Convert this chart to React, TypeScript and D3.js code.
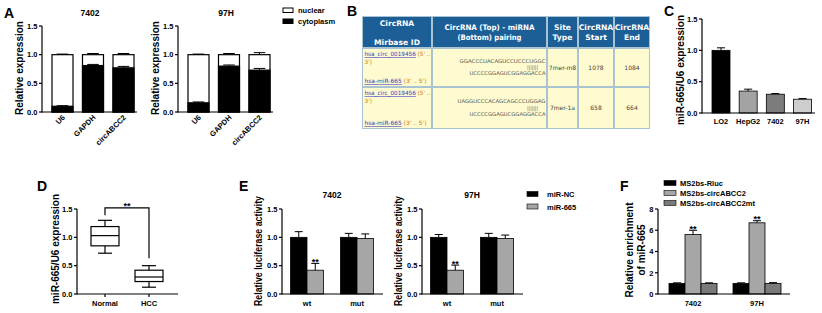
import React from "react";
import * as d3 from "d3";

const FONT = "Liberation Sans, Arial, Helvetica, sans-serif";

// Panel A
const aCategories = ["U6", "GAPDH", "circABCC2"];
const aTitles = ["7402", "97H"];
const a7402Cyto = [0.1, 0.81, 0.77];
const a7402CytoErr = [0.01, 0.02, 0.025];
const a7402Total = [1.0, 1.0, 1.0];
const a7402TotalErr = [0.01, 0.02, 0.02];
const a97HCyto = [0.16, 0.8, 0.73];
const a97HCytoErr = [0.015, 0.02, 0.03];
const a97HTotal = [1.0, 1.0, 1.0];
const a97HTotalErr = [0.01, 0.02, 0.035];
const aLegend = ["nuclear", "cytoplasm"];
const yTicks15 = [0, 0.5, 1.0, 1.5];

// Panel B
const tableHeaderLines = [
  ["CircRNA", "", "Mirbase ID"],
  ["CircRNA (Top) - miRNA", "(Bottom) pairing"],
  ["Site", "Type"],
  ["CircRNA", "Start"],
  ["CircRNA", "End"],
];
const tableCircIds = ["hsa_circ_0019456", "hsa_circ_0019456"];
const tableMirIds = ["hsa-miR-665", "hsa-miR-665"];
const tableTopSeq = ["GGACCCUACAGUCCUCCCUGGC", "UAGGUCCCACAGCAGCCCUGGAG"];
const tablePairs = ["|||||||", "|||||||"];
const tableBottomSeq = ["UCCCCGGAGUCGGAGGACCA", "UCCCCGGAGUCGGAGGACCA"];
const tableSiteType = ["7mer-m8", "7mer-1a"];
const tableStart = ["1078", "658"];
const tableEnd = ["1084", "664"];

// Panel C
const cCategories = ["LO2", "HepG2", "7402", "97H"];
const cValues = [1.0, 0.35, 0.3, 0.22];
const cErrors = [0.04, 0.03, 0.01, 0.01];
const cColors = ["#000000", "#a3a3a3", "#7c7c7c", "#cdcdcd"];

// Panel D
const dCategories = ["Normal", "HCC"];
const dMin = [0.72, 0.12];
const dQ1 = [0.85, 0.22];
const dMedian = [1.03, 0.3];
const dQ3 = [1.19, 0.42];
const dMax = [1.3, 0.5];

// Panel E
const eGroups = ["wt", "mut"];
const eSeries = ["miR-NC", "miR-665"];
const eColors = ["#000000", "#a6a6a6"];
const eTitles = ["7402", "97H"];
const e7402Values = [[1.0, 1.0], [0.42, 0.98]];
const e7402Errors = [[0.1, 0.07], [0.12, 0.08]];
const e97HValues = [[1.0, 1.0], [0.42, 0.98]];
const e97HErrors = [[0.05, 0.07], [0.09, 0.06]];

// Panel F
const fGroups = ["7402", "97H"];
const fSeries = ["MS2bs-Rluc", "MS2bs-circABCC2", "MS2bs-circABCC2mt"];
const fColors = ["#000000", "#a6a6a6", "#7a7a7a"];
const fValues = [[1.0, 1.0], [5.6, 6.7], [1.0, 1.0]];
const fErrors = [[0.05, 0.05], [0.4, 0.2], [0.05, 0.07]];
const fTicks = [0, 2, 4, 6, 8];

const SW = 1.2;

function YAxis({ scale, x, ticks, fmt }: any) {
  const r = scale.range();
  return (
    <g>
      <line x1={x} x2={x} y1={r[0] + 0.6} y2={r[1]} stroke="#000" strokeWidth={SW} />
      {ticks.map((t: number) => (
        <g key={t}>
          <line x1={x - 3} x2={x} y1={scale(t)} y2={scale(t)} stroke="#000" strokeWidth={SW} />
          <text x={x - 4.5} y={scale(t) + 2.8} fontSize={7.5} fontWeight="bold" textAnchor="end" fontFamily={FONT}>
            {fmt(t)}
          </text>
        </g>
      ))}
    </g>
  );
}

function XAxisLine({ x0, x1, y }: any) {
  return <line x1={x0} x2={x1} y1={y} y2={y} stroke="#000" strokeWidth={SW} />;
}

function ErrBar({ x, y0, y1, w }: any) {
  return (
    <g stroke="#000" strokeWidth={1}>
      <line x1={x} x2={x} y1={y0} y2={y1} />
      <line x1={x - w / 2} x2={x + w / 2} y1={y1} y2={y1} />
    </g>
  );
}

function YTitle({ x, y, lines, size = 10, len }: any) {
  if (lines.length === 1) {
    return (
      <text
        transform={`translate(${x},${y}) rotate(-90)`}
        x={len ? -len / 2 : 0}
        fontSize={size}
        fontWeight="bold"
        textAnchor={len ? "start" : "middle"}
        fontFamily={FONT}
        textLength={len}
        lengthAdjust={len ? "spacingAndGlyphs" : undefined}
      >
        {lines[0]}
      </text>
    );
  }
  return (
    <text transform={`translate(${x},${y}) rotate(-90)`} fontSize={size} fontWeight="bold" textAnchor="middle" fontFamily={FONT}>
      {lines.map((l: string, i: number) => (
        <tspan key={i} x={0} dy={i === 0 ? 0 : size * 1.2}>
          {l}
        </tspan>
      ))}
    </text>
  );
}

function PanelLabel({ x, y, t }: any) {
  return (
    <text x={x} y={y} fontSize={14} fontWeight="bold" fontFamily={FONT}>
      {t}
    </text>
  );
}

function PanelA({ x0, title, cyto, cytoErr, total, totalErr }: any) {
  const y = d3.scaleLinear().domain([0, 1.5]).range([112, 26]);
  const xs = d3.scalePoint().domain(aCategories).range([x0 + 20.5, x0 + 81.5]);
  const bw = 21;
  return (
    <g>
      <text x={x0 + 48} y={16} fontSize={8.5} fontWeight="bold" textAnchor="middle" fontFamily={FONT}>
        {title}
      </text>
      {aCategories.map((c, i) => {
        const cx = xs(c) as number;
        return (
          <g key={c}>
            <rect x={cx - bw / 2} y={y(total[i])} width={bw} height={y(0) - y(total[i])} fill="#fff" stroke="#000" strokeWidth={SW} />
            <rect x={cx - bw / 2} y={y(cyto[i])} width={bw} height={y(0) - y(cyto[i])} fill="#000" stroke="#000" strokeWidth={SW} />
            <ErrBar x={cx} y0={y(cyto[i])} y1={y(cyto[i] + cytoErr[i])} w={bw * 0.55} />
            <ErrBar x={cx} y0={y(total[i])} y1={y(total[i] + totalErr[i])} w={bw * 0.55} />
            <text transform={`translate(${cx + 3},${118}) rotate(-45)`} fontSize={7.5} fontWeight="bold" textAnchor="end" fontFamily={FONT}>
              {c}
            </text>
          </g>
        );
      })}
      <YAxis scale={y} x={x0} ticks={yTicks15} fmt={d3.format(".1f")} />
      <XAxisLine x0={x0} x1={x0 + 95} y={y(0)} />
      <YTitle x={x0 - 19} y={68} lines={["Relative expression"]} />
    </g>
  );
}

function PanelB() {
  const cols = [362, 432, 547, 578, 614, 650];
  const rows = [16, 48, 87, 129];
  const border = "#a9c3d3";
  const cells: any[] = [];
  for (let r = 0; r < 3; r++) {
    for (let c = 0; c < 5; c++) {
      cells.push(
        <rect
          key={`${r}-${c}`}
          x={cols[c] + 1}
          y={rows[r] + 1}
          width={cols[c + 1] - cols[c] - 2}
          height={rows[r + 1] - rows[r] - 2}
          fill={r === 0 ? "#1c5e96" : "#fdfbcf"}
        />
      );
    }
  }
  const hdr = tableHeaderLines.map((lines, c) => {
    const cx = (cols[c] + cols[c + 1]) / 2;
    const n = lines.length;
    return lines.map((l, i) => (
      <text
        key={`${c}-${i}`}
        x={cx}
        y={n === 3 ? 26 + i * 9.5 : 30 + i * 10}
        fontSize={7.6}
        fontWeight="bold"
        fill="#fff"
        textAnchor="middle"
        fontFamily="DejaVu Sans, sans-serif"
        textLength={c === 1 ? (i === 0 ? 90 : 64) : undefined}
        lengthAdjust="spacingAndGlyphs"
      >
        {l}
      </text>
    ));
  });
  const body = [0, 1].map((r) => {
    const top = rows[r + 1];
    const mid = (rows[r + 1] + rows[r + 2]) / 2;
    return (
      <g key={r} fontFamily="DejaVu Sans, sans-serif" fontSize={5.8}>
        <text x={cols[0] + 2.5} y={top + 8} textLength={66} lengthAdjust="spacingAndGlyphs">
          <tspan fill="#3a3ac8" textDecoration="underline">{tableCircIds[r]}</tspan>
          <tspan fill="#d07a20">{" (5' .."}</tspan>
        </text>
        <text x={cols[0] + 2.5} y={top + 16} fill="#d07a20">3')</text>
        <text x={cols[0] + 2.5} y={rows[r + 2] - 4} textLength={62} lengthAdjust="spacingAndGlyphs">
          <tspan fill="#3a3ac8" textDecoration="underline">{tableMirIds[r]}</tspan>
          <tspan fill="#d07a20">{" (3' .. 5')"}</tspan>
        </text>
        <text x={cols[2] - 1.5} y={mid - 5} textAnchor="end" fill="#555" fontSize={5} textLength={r === 0 ? 86 : 88} lengthAdjust="spacingAndGlyphs">{tableTopSeq[r]}</text>
        <text x={cols[2] - 9} y={mid + 1.5} textAnchor="end" fill="#555" fontSize={5} textLength={11} lengthAdjust="spacingAndGlyphs">{tablePairs[r]}</text>
        <text x={cols[2] - 1.5} y={mid + 7.5} textAnchor="end" fill="#555" fontSize={5} textLength={76} lengthAdjust="spacingAndGlyphs">{tableBottomSeq[r]}</text>
        <text x={(cols[2] + cols[3]) / 2} y={mid + 2} textAnchor="middle" fill="#444" fontSize={6}>{tableSiteType[r]}</text>
        <text x={(cols[3] + cols[4]) / 2} y={mid + 2} textAnchor="middle" fill="#444" fontSize={6}>{tableStart[r]}</text>
        <text x={(cols[4] + cols[5]) / 2} y={mid + 2} textAnchor="middle" fill="#444" fontSize={6}>{tableEnd[r]}</text>
      </g>
    );
  });
  return (
    <g>
      <rect x={cols[0]} y={rows[0]} width={cols[5] - cols[0]} height={rows[3] - rows[0]} fill={border} />
      {cells}
      {hdr}
      {body}
    </g>
  );
}

function PanelC() {
  const y = d3.scaleLinear().domain([0, 1.5]).range([113, 19]);
  const xs = d3.scalePoint().domain(cCategories).range([721, 802.5]);
  const bw = 18;
  return (
    <g>
      {cCategories.map((c, i) => {
        const cx = xs(c) as number;
        return (
          <g key={c}>
            <rect x={cx - bw / 2} y={y(cValues[i])} width={bw} height={y(0) - y(cValues[i])} fill={cColors[i]} stroke="#000" strokeWidth={0.8} />
            <ErrBar x={cx} y0={y(cValues[i])} y1={y(cValues[i] + cErrors[i])} w={8} />
            <text x={cx} y={124} fontSize={7.5} fontWeight="bold" textAnchor="middle" fontFamily={FONT}>{c}</text>
          </g>
        );
      })}
      <YAxis scale={y} x={702} ticks={yTicks15} fmt={d3.format(".1f")} />
      <XAxisLine x0={702} x1={815} y={y(0)} />
      <YTitle x={684} y={70} lines={["miR-665/U6 expression"]} />
    </g>
  );
}

function PanelD() {
  const y = d3.scaleLinear().domain([0, 1.5]).range([294, 209]);
  const xs = d3.scalePoint().domain(dCategories).range([105, 149]);
  const bw = 28;
  return (
    <g>
      {dCategories.map((c, i) => {
        const cx = xs(c) as number;
        return (
          <g key={c} stroke="#000" strokeWidth={SW}>
            <line x1={cx} x2={cx} y1={y(dMin[i])} y2={y(dQ1[i])} />
            <line x1={cx} x2={cx} y1={y(dQ3[i])} y2={y(dMax[i])} />
            <line x1={cx - bw / 4} x2={cx + bw / 4} y1={y(dMin[i])} y2={y(dMin[i])} />
            <line x1={cx - bw / 4} x2={cx + bw / 4} y1={y(dMax[i])} y2={y(dMax[i])} />
            <rect x={cx - bw / 2} y={y(dQ3[i])} width={bw} height={y(dQ1[i]) - y(dQ3[i])} fill="#fff" />
            <line x1={cx - bw / 2} x2={cx + bw / 2} y1={y(dMedian[i])} y2={y(dMedian[i])} />
            <line x1={cx} x2={cx} y1={y(0)} y2={y(0) + 3} />
            <text x={cx} y={306} fontSize={7.5} fontWeight="bold" textAnchor="middle" fontFamily={FONT} stroke="none">{c}</text>
          </g>
        );
      })}
      <path
        d={`M${xs("Normal")},${y(1.39)}V${y(1.52)}H${xs("HCC")}V${y(0.63)}`}
        fill="none"
        stroke="#000"
        strokeWidth={SW}
      />
      <text x={127} y={209} fontSize={9} fontWeight="bold" textAnchor="middle" fontFamily={FONT}>**</text>
      <YAxis scale={y} x={77} ticks={yTicks15} fmt={d3.format(".1f")} />
      <XAxisLine x0={77} x1={178} y={y(0)} />
      <YTitle x={59} y={249} lines={["miR-665/U6 expression"]} />
    </g>
  );
}

function PanelE({ x0, title, values, errors }: any) {
  const y = d3.scaleLinear().domain([0, 1.5]).range([294, 209]);
  const xs = d3.scalePoint().domain(eGroups).range([x0 + 25, x0 + 75]);
  const bw = 16.5;
  return (
    <g>
      <text x={x0 + 50} y={198} fontSize={8.5} fontWeight="bold" textAnchor="middle" fontFamily={FONT}>{title}</text>
      {eGroups.map((g, gi) => {
        const gc = xs(g) as number;
        return (
          <g key={g}>
            {eSeries.map((s, si) => {
              const cx = gc + (si - 0.5) * bw;
              const v = values[si][gi];
              const e = errors[si][gi];
              return (
                <g key={s}>
                  <rect x={cx - bw / 2} y={y(v)} width={bw} height={y(0) - y(v)} fill={eColors[si]} stroke="#000" strokeWidth={0.8} />
                  <ErrBar x={cx} y0={y(v)} y1={y(v + e)} w={8} />
                  {si === 1 && gi === 0 ? (
                    <text x={cx} y={y(v + e) + 1.5} fontSize={9} fontWeight="bold" textAnchor="middle" fontFamily={FONT}>**</text>
                  ) : null}
                </g>
              );
            })}
            <text x={gc} y={306} fontSize={7.5} fontWeight="bold" textAnchor="middle" fontFamily={FONT}>{g}</text>
          </g>
        );
      })}
      <YAxis scale={y} x={x0} ticks={yTicks15} fmt={d3.format(".1f")} />
      <XAxisLine x0={x0} x1={x0 + 101} y={y(0)} />
      <YTitle x={x0 - 20} y={251} lines={["Relative luciferase activity"]} size={10} len={110} />
    </g>
  );
}

function PanelF() {
  const y = d3.scaleLinear().domain([0, 8]).range([294, 209]);
  const xs = d3.scalePoint().domain(fGroups).range([693, 757]);
  const bw = 16;
  return (
    <g>
      {fGroups.map((g, gi) => {
        const gc = xs(g) as number;
        return (
          <g key={g}>
            {fSeries.map((s, si) => {
              const cx = gc + (si - 1) * bw;
              const v = fValues[si][gi];
              const e = fErrors[si][gi];
              return (
                <g key={s}>
                  <rect x={cx - bw / 2} y={y(v)} width={bw} height={y(0) - y(v)} fill={fColors[si]} stroke="#000" strokeWidth={0.8} />
                  <ErrBar x={cx} y0={y(v)} y1={y(v + e)} w={8} />
                  {si === 1 ? (
                    <text x={cx} y={y(v + e) + 1.5} fontSize={9} fontWeight="bold" textAnchor="middle" fontFamily={FONT}>**</text>
                  ) : null}
                </g>
              );
            })}
            <text x={gc} y={306} fontSize={7.5} fontWeight="bold" textAnchor="middle" fontFamily={FONT}>{g}</text>
          </g>
        );
      })}
      {fSeries.map((s, si) => (
        <g key={s}>
          <rect x={664} y={180.5 + si * 10} width={12} height={5} fill={fColors[si]} stroke="#000" strokeWidth={0.6} />
          <text x={680} y={186 + si * 10} fontSize={7.5} fontWeight="bold" fontFamily={FONT}>{s}</text>
        </g>
      ))}
      <YAxis scale={y} x={658} ticks={fTicks} fmt={d3.format("d")} />
      <XAxisLine x0={658} x1={790} y={y(0)} />
      <YTitle x={633} y={250} lines={["Relative enrichment", "of miR-665"]} />
    </g>
  );
}

export default function App() {
  return (
    <svg width={822} height={313} style={{ position: "absolute", left: 0, top: 0, background: "#fff" }} fontFamily={FONT}>
      <rect width={822} height={313} fill="#fff" />
      <PanelLabel x={4} y={18} t="A" />
      <PanelA x0={42} title={aTitles[0]} cyto={a7402Cyto} cytoErr={a7402CytoErr} total={a7402Total} totalErr={a7402TotalErr} />
      <PanelA x0={178} title={aTitles[1]} cyto={a97HCyto} cytoErr={a97HCytoErr} total={a97HTotal} totalErr={a97HTotalErr} />
      {aLegend.map((l, i) => (
        <g key={l}>
          <rect x={283} y={8 + i * 11} width={10} height={4.5} fill={i === 0 ? "#fff" : "#000"} stroke="#000" strokeWidth={1} />
          <text x={298} y={13 + i * 11} fontSize={7.5} fontWeight="bold" fontFamily={FONT}>{l}</text>
        </g>
      ))}
      <PanelLabel x={347} y={16} t="B" />
      <PanelB />
      <PanelLabel x={664} y={16} t="C" />
      <PanelC />
      <PanelLabel x={37} y={191} t="D" />
      <PanelD />
      <PanelLabel x={239} y={191} t="E" />
      <PanelE x0={282} title={eTitles[0]} values={e7402Values} errors={e7402Errors} />
      <PanelE x0={422} title={eTitles[1]} values={e97HValues} errors={e97HErrors} />
      {eSeries.map((s, i) => (
        <g key={s}>
          <rect x={527} y={191.5 + i * 12.5} width={11} height={5} fill={eColors[i]} stroke="#000" strokeWidth={0.6} />
          <text x={547} y={197 + i * 12.5} fontSize={7.5} fontWeight="bold" fontFamily={FONT}>{s}</text>
        </g>
      ))}
      <PanelLabel x={620} y={191} t="F" />
      <PanelF />
    </svg>
  );
}
